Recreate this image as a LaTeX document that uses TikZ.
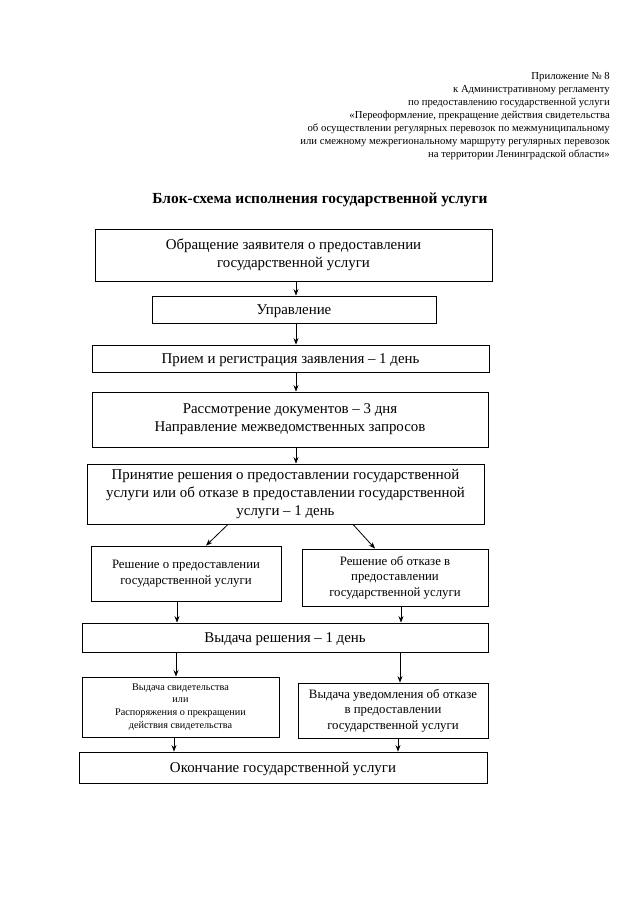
\documentclass[tikz,border=0pt]{standalone}
\usepackage{fontspec}
\setmainfont{Liberation Serif}
\usetikzlibrary{arrows.meta}
\begin{document}
\begin{tikzpicture}[x=1pt,y=-1pt,
  box/.style={draw,line width=0.8pt,inner sep=1pt,align=center},
  arr/.style={line width=0.8pt,-{Stealth[length=6.5pt,width=5pt]}},
  big/.style={font=\fontsize{14.9}{18}\selectfont},
  mid/.style={font=\fontsize{12.8}{15.5}\selectfont},
  sml/.style={font=\fontsize{10.2}{12.8}\selectfont}]
\useasboundingbox (0,0) rectangle (640,905);
\node[anchor=north east,align=right,inner sep=0pt,font=\fontsize{10.7}{12.9}\selectfont] (hdr) at (610,72.5)
 {Приложение № 8\\к Административному регламенту\\по предоставлению государственной услуги\\«Переоформление, прекращение действия свидетельства\\об осуществлении регулярных перевозок по межмуниципальному\\или смежному межрегиональному маршруту регулярных перевозок\\на территории Ленинградской области»};
\node[font=\bfseries\fontsize{15.4}{18}\selectfont,inner sep=0pt] (title) at (320,200) {Блок-схема исполнения государственной услуги};
\node[box,big,minimum width=397pt,minimum height=52pt] (b1) at (293.5,255) {Обращение заявителя о предоставлении\\государственной услуги};
\node[box,big,minimum width=284pt,minimum height=27pt,text depth=0pt] (b2) at (294,309.5) {Управление};
\node[box,big,minimum width=397pt,minimum height=27pt,text depth=0pt] (b3) at (290.5,358.5) {Прием и регистрация заявления – 1 день};
\node[box,big,minimum width=396pt,minimum height=55pt] (b4) at (290,419.5) {Рассмотрение документов – 3 дня\\Направление межведомственных запросов};
\node[box,big,minimum width=397pt,minimum height=60pt] (b5) at (285.5,494) {Принятие решения о предоставлении государственной\\услуги или об отказе в предоставлении государственной\\услуги – 1 день};
\node[box,mid,minimum width=190pt,minimum height=55pt] (b6) at (186,573.5) {Решение о предоставлении\\государственной услуги};
\node[box,mid,minimum width=186pt,minimum height=57pt] (b7) at (395,577.5) {Решение об отказе в\\предоставлении\\государственной услуги};
\node[box,big,minimum width=406pt,minimum height=29pt,text depth=0pt] (b8) at (285,637.5) {Выдача решения – 1 день};
\node[box,sml,minimum width=197pt,minimum height=60pt] (b9) at (180.5,707) {Выдача свидетельства\\или\\Распоряжения о прекращении\\действия свидетельства};
\node[box,mid,minimum width=190pt,minimum height=55pt] (b10) at (393,710.5) {Выдача уведомления об отказе\\в предоставлении\\государственной услуги};
\node[box,big,minimum width=408pt,minimum height=31pt,text depth=0pt] (b11) at (283,767.5) {Окончание государственной услуги};
\coordinate (a1) at (296,0);
\coordinate (d1) at (228,0);
\coordinate (d2) at (206,0);
\coordinate (d3) at (353,0);
\coordinate (d4) at (375,0);
\coordinate (l1) at (177,0);
\coordinate (r1) at (401,0);
\coordinate (l2) at (176,0);
\coordinate (r2) at (400,0);
\coordinate (l3) at (174,0);
\coordinate (r3) at (398,0);
\draw[arr] (b1.south -| a1) -- (b2.north -| a1);
\draw[arr] (b2.south -| a1) -- (b3.north -| a1);
\draw[arr] (b3.south -| a1) -- (b4.north -| a1);
\draw[arr] (b4.south -| a1) -- (b5.north -| a1);
\draw[arr] (b5.south -| d1) -- (b6.north -| d2);
\draw[arr] (b5.south -| d3) -- (b7.north -| d4);
\draw[arr] (b6.south -| l1) -- (b8.north -| l1);
\draw[arr] (b7.south -| r1) -- (b8.north -| r1);
\draw[arr] (b8.south -| l2) -- (b9.north -| l2);
\draw[arr] (b8.south -| r2) -- (b10.north -| r2);
\draw[arr] (b9.south -| l3) -- (b11.north -| l3);
\draw[arr] (b10.south -| r3) -- (b11.north -| r3);
\end{tikzpicture}
\end{document}
